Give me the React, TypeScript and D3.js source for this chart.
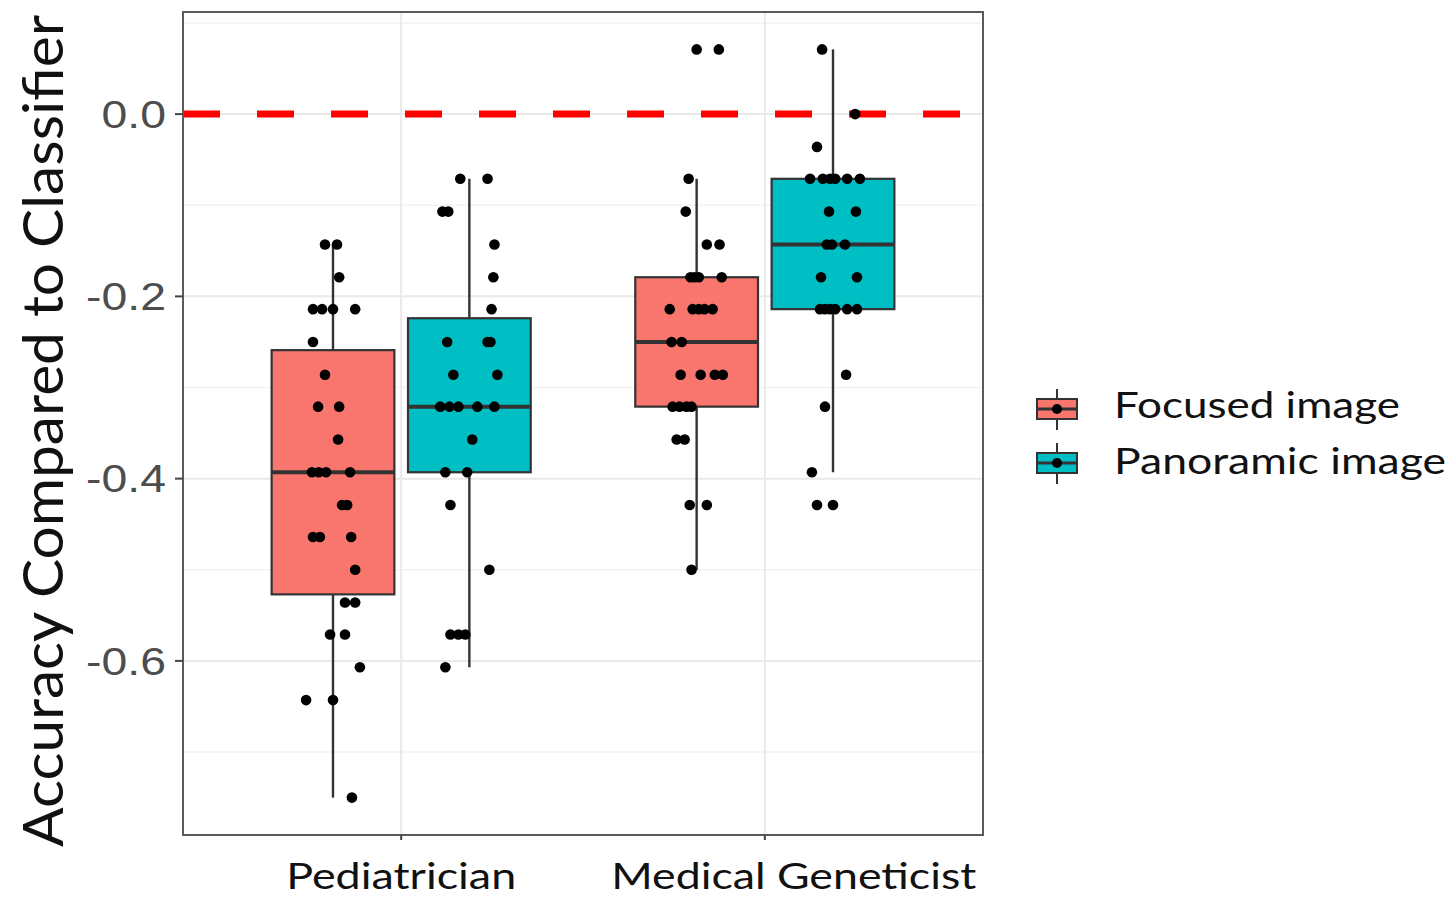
import React from "react";
import * as d3 from "d3";

// ---------- data ----------
const categories = ["Pediatrician", "Medical Geneticist"];
const groups = ["Focused image", "Panoramic image"];
const groupColors = ["#F8766D", "#00BFC4"];
const yTicks = [0, -0.2, -0.4, -0.6];
const yMinorTicks = [0.1, -0.1, -0.3, -0.5, -0.7];
const refLineValue = 0;

// box stats: [lower whisker, q1, median, q3, upper whisker]
const pedFocusedBox = [-0.75, -0.527, -0.393, -0.259, -0.143];
const pedPanoramicBox = [-0.607, -0.393, -0.321, -0.224, -0.071];
const mgFocusedBox = [-0.5, -0.321, -0.25, -0.179, -0.071];
const mgPanoramicBox = [-0.393, -0.214, -0.143, -0.071, 0.071];

// points: [value, jitter (in category units)]
const pedFocusedPoints: [number, number][] = [
  [-0.143, -0.022], [-0.143, 0.011],
  [-0.179, 0.017],
  [-0.214, -0.055], [-0.214, -0.03], [-0.214, 0], [-0.214, 0.061],
  [-0.25, -0.055],
  [-0.286, -0.022],
  [-0.321, -0.041], [-0.321, 0.017],
  [-0.357, 0.014],
  [-0.393, -0.058], [-0.393, -0.039], [-0.393, -0.019], [-0.393, 0.047],
  [-0.429, 0.025], [-0.429, 0.039],
  [-0.464, -0.055], [-0.464, -0.036], [-0.464, 0.05],
  [-0.5, 0.061],
  [-0.536, 0.033], [-0.536, 0.061],
  [-0.571, -0.008], [-0.571, 0.033],
  [-0.607, 0.074],
  [-0.643, -0.074], [-0.643, 0],
  [-0.75, 0.052],
];
const pedPanoramicPoints: [number, number][] = [
  [-0.071, -0.025], [-0.071, 0.05],
  [-0.107, -0.074], [-0.107, -0.058],
  [-0.143, 0.069],
  [-0.179, 0.066],
  [-0.214, 0.061],
  [-0.25, -0.061], [-0.25, 0.05], [-0.25, 0.058],
  [-0.286, -0.044], [-0.286, 0.077],
  [-0.321, -0.08], [-0.321, -0.055], [-0.321, -0.03], [-0.321, 0.022], [-0.321, 0.069],
  [-0.357, 0.008],
  [-0.393, -0.066], [-0.393, -0.006],
  [-0.429, -0.052],
  [-0.5, 0.055],
  [-0.571, -0.052], [-0.571, -0.03], [-0.571, -0.011],
  [-0.607, -0.066],
];
const mgFocusedPoints: [number, number][] = [
  [0.071, 0], [0.071, 0.061],
  [-0.071, -0.022],
  [-0.107, -0.03],
  [-0.143, 0.028], [-0.143, 0.063],
  [-0.179, -0.017], [-0.179, -0.006], [-0.179, 0.006], [-0.179, 0.069],
  [-0.214, -0.074], [-0.214, -0.011], [-0.214, 0.006], [-0.214, 0.022], [-0.214, 0.044],
  [-0.25, -0.069], [-0.25, -0.041],
  [-0.286, -0.044], [-0.286, 0.011], [-0.286, 0.05], [-0.286, 0.072],
  [-0.321, -0.066], [-0.321, -0.047], [-0.321, -0.028], [-0.321, -0.014],
  [-0.357, -0.055], [-0.357, -0.033],
  [-0.429, -0.019], [-0.429, 0.028],
  [-0.5, -0.014],
];
const mgPanoramicPoints: [number, number][] = [
  [0.071, -0.03],
  [0, 0.061],
  [-0.036, -0.044],
  [-0.071, -0.063], [-0.071, -0.028], [-0.071, -0.008], [-0.071, 0.006], [-0.071, 0.039], [-0.071, 0.074],
  [-0.107, -0.011], [-0.107, 0.063],
  [-0.143, -0.017], [-0.143, -0.003], [-0.143, 0.033],
  [-0.179, -0.033], [-0.179, 0.066],
  [-0.214, -0.036], [-0.214, -0.022], [-0.214, -0.008], [-0.214, 0.006], [-0.214, 0.039], [-0.214, 0.066],
  [-0.286, 0.036],
  [-0.321, -0.022],
  [-0.393, -0.058],
  [-0.429, -0.044], [-0.429, 0],
];

const series = [
  { category: categories[0], group: 0, box: pedFocusedBox, points: pedFocusedPoints },
  { category: categories[0], group: 1, box: pedPanoramicBox, points: pedPanoramicPoints },
  { category: categories[1], group: 0, box: mgFocusedBox, points: mgFocusedPoints },
  { category: categories[1], group: 1, box: mgPanoramicBox, points: mgPanoramicPoints },
];

// ---------- layout ----------
const W = 1455;
const H = 898;
const panel = { left: 183, right: 983, top: 12, bottom: 835 };
const FONT = "Lato, 'Open Sans', sans-serif";

export default function App() {
  const allVals = series.flatMap((s) => s.points.map((p) => p[0]));
  const [mn, mx] = d3.extent(allVals) as [number, number];
  const pad = (mx - mn) * 0.05;
  const y = d3.scaleLinear().domain([mn - pad, mx + pad]).range([panel.bottom, panel.top]);
  const x = d3.scalePoint<string>().domain(categories).range([panel.left, panel.right]).padding(0.6);
  const step = x.step();
  const dodge = 0.375 * step;
  const boxW = 0.3375 * step;
  const cx = (cat: string, g: number) => (x(cat) as number) + (g - 0.5) * dodge;

  const labelNudge = [0, 29];
  const labelLen = [230, 365];

  return (
    <svg width={W} height={H} style={{ position: "absolute", left: 0, top: 0, background: "#fff" }}>
      <rect x={0} y={0} width={W} height={H} fill="#fff" />
      {/* minor grid */}
      {yMinorTicks.map((t) => (
        <line key={"mn" + t} x1={panel.left} x2={panel.right} y1={y(t)} y2={y(t)} stroke="#f2f2f2" strokeWidth={1.5} />
      ))}
      {/* major grid */}
      {yTicks.map((t) => (
        <line key={"mj" + t} x1={panel.left} x2={panel.right} y1={y(t)} y2={y(t)} stroke="#e9e9e9" strokeWidth={2} />
      ))}
      {categories.map((c) => (
        <line key={"vg" + c} x1={x(c)} x2={x(c)} y1={panel.top} y2={panel.bottom} stroke="#e9e9e9" strokeWidth={2} />
      ))}
      {/* boxplots */}
      {series.map((s, i) => {
        const c = cx(s.category, s.group);
        const [lo, q1, med, q3, hi] = s.box;
        return (
          <g key={"b" + i}>
            <line x1={c} x2={c} y1={y(hi)} y2={y(q3)} stroke="#333" strokeWidth={2.4} />
            <line x1={c} x2={c} y1={y(q1)} y2={y(lo)} stroke="#333" strokeWidth={2.4} />
            <rect x={c - boxW / 2} y={y(q3)} width={boxW} height={y(q1) - y(q3)} fill={groupColors[s.group]} stroke="#333" strokeWidth={2.2} />
            <line x1={c - boxW / 2} x2={c + boxW / 2} y1={y(med)} y2={y(med)} stroke="#333" strokeWidth={4} />
          </g>
        );
      })}
      {/* reference line */}
      <line x1={panel.left} x2={panel.right} y1={y(refLineValue)} y2={y(refLineValue)} stroke="#ff0000" strokeWidth={7} strokeDasharray="37 37" />
      {/* points */}
      {series.map((s, i) => {
        const c = cx(s.category, s.group);
        return (
          <g key={"p" + i}>
            {s.points.map((p, j) => (
              <circle key={j} cx={c + p[1] * step} cy={y(p[0])} r={5.3} fill="#000" />
            ))}
          </g>
        );
      })}
      {/* panel border */}
      <rect x={panel.left} y={panel.top} width={panel.right - panel.left} height={panel.bottom - panel.top} fill="none" stroke="#5a5a5a" strokeWidth={2} />
      {/* y axis ticks */}
      {yTicks.map((t) => (
        <g key={"yt" + t}>
          <line x1={panel.left - 8} x2={panel.left} y1={y(t)} y2={y(t)} stroke="#444" strokeWidth={2} />
          <text
            transform={`translate(166,${y(t)}) scale(1.22,1)`}
            textAnchor="end"
            dy="0.36em"
            fontFamily="'Liberation Sans', Arial, sans-serif"
            fontSize={38}
            fill="#4d4d4d"
          >
            {d3.format(".1f")(t).replace("−", "-")}
          </text>
        </g>
      ))}
      {/* x axis ticks + labels */}
      {categories.map((c, i) => (
        <g key={"xt" + c}>
          <line x1={x(c)} x2={x(c)} y1={panel.bottom} y2={panel.bottom + 5} stroke="#444" strokeWidth={2} />
          <text
            x={(x(c) as number) + labelNudge[i]}
            y={889}
            textAnchor="middle"
            fontFamily={FONT}
            fontSize={37}
            fill="#111"
            textLength={labelLen[i]}
            lengthAdjust="spacingAndGlyphs"
          >
            {c}
          </text>
        </g>
      ))}
      {/* y title */}
      <text
        transform={`translate(63,431) rotate(-90)`}
        textAnchor="middle"
        fontFamily={FONT}
        fontSize={56}
        fill="#111"
        textLength={832}
        lengthAdjust="spacingAndGlyphs"
      >
        Accuracy Compared to Classifier
      </text>
      {/* legend */}
      {groups.map((g, i) => {
        const ky = i === 0 ? 409 : 463;
        const kx = 1057;
        return (
          <g key={"lg" + g}>
            <line x1={kx} x2={kx} y1={ky - 20} y2={ky + 21} stroke="#333" strokeWidth={2} />
            <rect x={kx - 20} y={ky - 10} width={40} height={20} fill={groupColors[i]} stroke="#333" strokeWidth={2} />
            <line x1={kx - 20} x2={kx + 20} y1={ky} y2={ky} stroke="#333" strokeWidth={3} />
            <circle cx={kx} cy={ky} r={5} fill="#000" />
            <text
              x={1114}
              y={i === 0 ? 418 : 474}
              fontFamily={FONT}
              fontSize={36}
              fill="#111"
              textLength={i === 0 ? 286 : 332}
              lengthAdjust="spacingAndGlyphs"
            >
              {g}
            </text>
          </g>
        );
      })}
    </svg>
  );
}
